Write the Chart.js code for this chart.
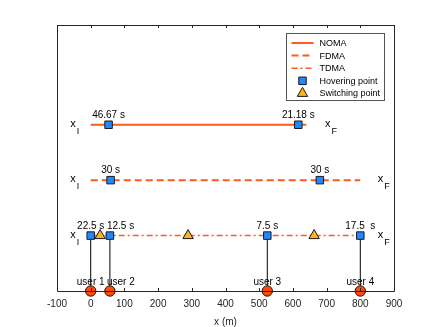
<!DOCTYPE html>
<html>
<head>
<meta charset="utf-8">
<script src="https://cdn.jsdelivr.net/npm/chart.js@4/dist/chart.umd.min.js"></script>
<style>
  html, body { margin: 0; padding: 0; background: #fff; }
  #wrap { width: 436px; height: 327px; }
</style>
</head>
<body>
<div id="wrap"><canvas id="chart"></canvas></div>
<script>
// ---- data (x in metres, rows on y: NOMA 3, FDMA 2, TDMA 1, users 0) ----
const nomaSpan = [0, 640];
const fdmaSpan = [0, 800];
const tdmaSpan = [0, 800];

const nomaHover = [53, 616];
const fdmaHover = [59, 680];
const tdmaHover = [0, 57, 524, 800];

const nomaTimes = ['46.67 s', '21.18 s'];
const fdmaTimes = ['30 s', '30 s'];
const tdmaTimes = ['22.5 s', '12.5 s', '7.5 s', '17.5  s'];

const tdmaSwitch = [28, 289, 663];

const userX = [0, 57, 524, 800];
const userNames = ['user 1', 'user 2', 'user 3', 'user 4'];

const startLabelX = -61;
const endLabelX = [695, 852, 852];   // NOMA, FDMA, TDMA

const LINE_COLOR = '#ff5a1f';
const FONT = '"Liberation Sans", Arial, Helvetica, sans-serif';
const AXIS_COLOR = '#262626';

const ROW = { noma: 3, fdma: 2, tdma: 1, user: 0 };

const seg = (span, y) => span.map(x => ({ x, y }));
const pts = (xs, y) => xs.map(x => ({ x, y }));

// vertical connectors from TDMA hovering points down to the users
const connectors = [];
userX.forEach(x => {
  connectors.push({ x, y: ROW.user }, { x, y: ROW.tdma }, { x, y: null });
});

// second label of the crowded pair near x=0 is pushed to the right
const crowded = ['center', 'left', 'center', 'center'];

// ---- text / frame plugin ----
const annotate = {
  id: 'annotate',
  afterDatasetsDraw(chart) {
    const { ctx, scales: { x, y } } = chart;
    ctx.save();
    ctx.fillStyle = '#000';
    ctx.font = '10px ' + FONT;
    ctx.textAlign = 'center';
    ctx.textBaseline = 'alphabetic';

    const labels = (xs, texts, row, dy, align) => {
      xs.forEach((v, i) => {
        const px = x.getPixelForValue(v);
        const py = y.getPixelForValue(row) + dy;
        ctx.textAlign = (align && align[i]) || 'center';
        const off = ctx.textAlign === 'left' ? -3 : 0;
        ctx.fillText(texts[i], px + off, py);
      });
      ctx.textAlign = 'center';
    };
    labels(nomaHover, nomaTimes, ROW.noma, -7);
    labels(fdmaHover, fdmaTimes, ROW.fdma, -7);
    labels(tdmaHover, tdmaTimes, ROW.tdma, -7, crowded);
    labels(userX, userNames, ROW.user, -6, crowded);

    // x_I and x_F
    const sub = (px, py, letter) => {
      ctx.textAlign = 'left';
      ctx.font = '11px ' + FONT;
      ctx.fillText('x', px, py + 2);
      const w = ctx.measureText('x').width;
      ctx.font = '9px ' + FONT;
      ctx.fillText(letter, px + w + 1, py + 9);
    };
    [ROW.noma, ROW.fdma, ROW.tdma].forEach((row, i) => {
      const py = y.getPixelForValue(row);
      sub(x.getPixelForValue(startLabelX), py, 'I');
      sub(x.getPixelForValue(endLabelX[i]), py, 'F');
    });
    ctx.restore();
  },
  afterDraw(chart) {
    const { ctx, chartArea: a, scales: { x } } = chart;
    ctx.save();
    // axes box
    ctx.strokeStyle = AXIS_COLOR;
    ctx.lineWidth = 1;
    ctx.beginPath();
    ctx.rect(Math.round(a.left) + 0.5, Math.round(a.top) + 0.5,
      Math.round(a.right - a.left), Math.round(a.bottom - a.top));
    ctx.stroke();
    // inward ticks top & bottom
    ctx.beginPath();
    x.ticks.forEach(t => {
      const px = Math.round(x.getPixelForValue(t.value)) + 0.5;
      ctx.moveTo(px, a.bottom); ctx.lineTo(px, a.bottom - 3);
      ctx.moveTo(px, a.top); ctx.lineTo(px, a.top + 3);
    });
    ctx.stroke();

    // legend box
    const ds = chart.data.datasets;
    const entries = [ds[0], ds[1], ds[2], ds[4], ds[5]];
    const bw = 98, bh = 67;
    const bx = Math.round(a.right - 10 - bw) + 0.5;
    const by = Math.round(a.top + 8) + 0.5;
    ctx.fillStyle = '#fff';
    ctx.fillRect(bx, by, bw, bh);
    ctx.strokeStyle = '#555';
    ctx.strokeRect(bx, by, bw, bh);
    ctx.font = '9px ' + FONT;
    ctx.textBaseline = 'middle';
    ctx.textAlign = 'left';
    entries.forEach((d, i) => {
      const cy = by + 9.5 + i * 12.6;
      const x0 = bx + 5, x1 = bx + 27;
      if (d.showLine) {
        ctx.strokeStyle = d.borderColor;
        ctx.lineWidth = d.borderWidth;
        ctx.setLineDash(d.borderDash || []);
        ctx.beginPath(); ctx.moveTo(x0, cy); ctx.lineTo(x1, cy); ctx.stroke();
        ctx.setLineDash([]);
      } else {
        ctx.fillStyle = d.backgroundColor;
        ctx.strokeStyle = d.borderColor;
        ctx.lineWidth = 1;
        Chart.helpers.drawPoint(ctx, {
          pointStyle: d.pointStyle, radius: d.pointRadius, borderWidth: 1, rotation: 0
        }, (x0 + x1) / 2, cy);
      }
      ctx.fillStyle = '#000';
      ctx.fillText(d.label, bx + 33, cy + 0.5);
    });
    ctx.restore();
  }
};

new Chart(document.getElementById('chart'), {
  type: 'scatter',
  data: {
    datasets: [
      { label: 'NOMA', data: seg(nomaSpan, ROW.noma), showLine: true,
        borderColor: LINE_COLOR, borderWidth: 2, pointRadius: 0, order: 2 },
      { label: 'FDMA', data: seg(fdmaSpan, ROW.fdma), showLine: true,
        borderColor: LINE_COLOR, borderWidth: 2, borderDash: [7, 4], pointRadius: 0, order: 2 },
      { label: 'TDMA', data: seg(tdmaSpan, ROW.tdma), showLine: true,
        borderColor: LINE_COLOR, borderWidth: 1.5, borderDash: [6, 3, 2, 3], pointRadius: 0, order: 2 },
      { label: 'links', data: connectors, showLine: true, spanGaps: false,
        borderColor: '#000', borderWidth: 1, pointRadius: 0, order: 3 },
      { label: 'Hovering point',
        data: [...pts(nomaHover, ROW.noma), ...pts(fdmaHover, ROW.fdma), ...pts(tdmaHover, ROW.tdma)],
        pointStyle: 'rect', pointRadius: 5.3, backgroundColor: '#1e88ff', borderColor: '#1a1a1a',
        borderWidth: 1, order: 1 },
      { label: 'Switching point', data: pts(tdmaSwitch, ROW.tdma),
        pointStyle: 'triangle', pointRadius: 6, backgroundColor: '#ffb21a', borderColor: '#1a1a1a',
        borderWidth: 1, order: 1 },
      { label: 'users', data: pts(userX, ROW.user),
        pointStyle: 'circle', pointRadius: 5.2, backgroundColor: '#ff4a0a', borderColor: '#1a1a1a',
        borderWidth: 1, order: 0 }
    ]
  },
  options: {
    responsive: true,
    maintainAspectRatio: false,
    animation: false,
    clip: false,
    events: [],
    layout: { padding: { left: 57, right: 42, top: 25, bottom: 0 } },
    plugins: { legend: { display: false }, tooltip: { enabled: false } },
    scales: {
      x: {
        type: 'linear', min: -100, max: 900,
        grid: { display: false, drawTicks: false },
        border: { display: false },
        ticks: { stepSize: 100, padding: 7, color: AXIS_COLOR, font: { family: FONT, size: 10 } },
        title: { display: true, text: 'x (m)', color: AXIS_COLOR,
          font: { family: FONT, size: 10, lineHeight: 1 }, padding: { top: 0, bottom: 0 } }
      },
      y: { display: false, min: 0, max: 4.8 }
    }
  },
  plugins: [annotate]
});
</script>
</body>
</html>
